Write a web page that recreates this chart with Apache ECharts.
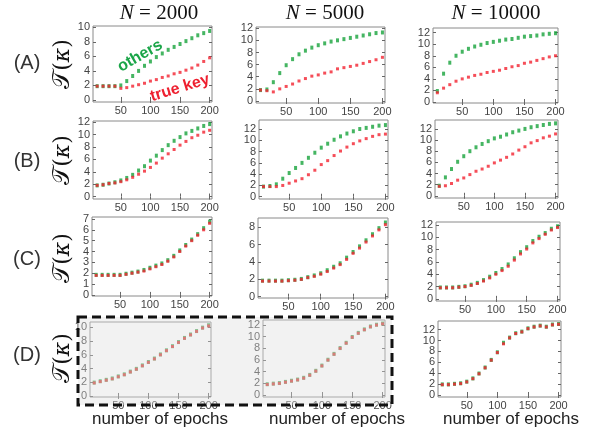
<!DOCTYPE html>
<html><head><meta charset="utf-8">
<script src="https://cdn.jsdelivr.net/npm/echarts@6/dist/echarts.min.js"></script>
<style>html,body{margin:0;padding:0;background:#fff}#c{width:602px;height:432px}</style>
</head><body><div id="c"></div><script>
// ---------- data ----------
const epochs = [10,20,30,40,50,60,70,80,90,100,110,120,130,140,150,160,170,180,190,200];
const colTitles = ['2000','5000','10000'];
const rowLabels = ['(A)','(B)','(C)','(D)'];
const xTicks = [50,100,150,200];
const yTicks10 = [0,2,4,6,8,10];
const yTicks12 = [0,2,4,6,8,10,12];
const yTicks7 = [0,1,2,3,4,5,6,7];
const yTicks8 = [0,2,4,6,8];

const a1Others = [1.9,1.9,1.9,1.9,2.0,2.6,3.3,4.0,4.7,5.3,5.9,6.4,6.9,7.3,7.7,8.1,8.5,8.9,9.2,9.5];
const a1True   = [1.9,1.9,1.9,1.9,1.6,1.7,1.9,2.1,2.3,2.6,2.8,3.1,3.3,3.6,3.8,4.1,4.4,4.8,5.3,5.8];
const a2Others = [1.8,1.9,3.1,4.6,5.9,6.9,7.7,8.3,8.8,9.2,9.5,9.8,10.0,10.2,10.4,10.6,10.8,11.0,11.2,11.3];
const a2True   = [1.8,1.7,1.5,2.0,2.4,2.8,3.3,3.7,4.1,4.3,4.6,4.8,5.3,5.5,5.7,5.9,6.2,6.5,6.8,7.2];
const a3Others = [1.9,4.9,6.8,8.0,8.7,9.2,9.6,9.9,10.2,10.4,10.6,10.8,10.9,11.1,11.3,11.4,11.5,11.7,11.8,11.9];
const a3True   = [1.6,2.4,3.0,3.6,4.0,4.3,4.6,4.8,5.1,5.3,5.5,5.8,6.1,6.3,6.7,6.9,7.2,7.5,7.8,8.0];
const b1Others = [1.8,1.9,2.1,2.3,2.6,3.0,3.5,4.2,4.9,5.8,6.6,7.5,8.3,9.0,9.6,10.2,10.6,11.0,11.4,11.7];
const b1True   = [1.8,1.9,2.1,2.2,2.4,2.7,3.1,3.6,4.1,4.7,5.4,6.2,6.9,7.6,8.3,8.9,9.5,9.9,10.4,10.7];
const b2Others = [1.8,1.9,2.2,3.2,4.2,5.1,6.0,6.9,7.8,8.7,9.4,10.1,10.7,11.2,11.6,12.0,12.2,12.4,12.6,12.7];
const b2True   = [1.8,1.8,1.8,2.0,2.4,2.8,3.2,3.9,4.7,5.7,6.4,7.3,8.1,8.8,9.4,9.9,10.3,10.7,11.0,11.1];
const b3Others = [1.8,3.3,4.8,6.1,7.1,8.0,8.7,9.3,9.8,10.3,10.6,11.0,11.4,11.7,12.0,12.3,12.5,12.7,12.9,13.0];
const b3True   = [1.7,1.8,2.2,2.8,3.2,3.8,4.4,4.8,5.3,5.9,6.4,6.9,7.5,8.2,8.8,9.5,9.9,10.4,10.7,11.1];
const c1Others = [1.85,1.85,1.85,1.85,1.85,1.95,2.05,2.15,2.3,2.5,2.7,2.9,3.2,3.6,4.1,4.6,5.1,5.6,6.15,6.75];
const c1True   = [1.8,1.8,1.8,1.8,1.8,1.9,2.0,2.1,2.2,2.4,2.6,2.8,3.1,3.5,4.0,4.5,5.0,5.5,6.0,6.6];
const c2Others = [1.85,1.85,1.85,1.85,1.9,1.95,2.05,2.25,2.45,2.7,3.05,3.45,3.85,4.5,5.15,5.8,6.5,7.2,7.9,8.55];
const c2True   = [1.8,1.8,1.8,1.8,1.85,1.9,2.0,2.2,2.35,2.6,2.9,3.3,3.7,4.3,5.0,5.6,6.3,7.0,7.7,8.3];
const c3Others = [1.85,1.85,1.85,1.95,2.05,2.3,2.6,3.05,3.6,4.2,4.85,5.6,6.6,7.6,8.4,9.4,10.1,10.7,11.4,11.8];
const c3True   = [1.8,1.8,1.8,1.9,2.0,2.2,2.5,2.9,3.4,4.0,4.6,5.3,6.3,7.3,8.1,9.1,9.8,10.5,11.2,11.6];
const d1Others = [1.95,2.15,2.35,2.55,2.85,3.15,3.55,3.95,4.45,4.95,5.45,6.05,6.65,7.25,7.85,8.45,8.95,9.45,9.95,10.3];
const d1True   = [1.9,2.1,2.3,2.5,2.8,3.1,3.5,3.9,4.4,4.9,5.4,6.0,6.6,7.2,7.8,8.4,8.9,9.4,9.9,10.2];
const d2Others = [1.85,1.95,2.05,2.25,2.45,2.65,2.95,3.45,4.15,5.05,6.05,7.05,8.05,8.95,9.95,10.65,11.25,11.75,12.05,12.25];
const d2True   = [1.8,1.9,2.0,2.2,2.4,2.6,2.9,3.4,4.1,5.0,6.0,7.0,8.0,8.9,9.9,10.6,11.2,11.7,12.0,12.2];
const d3Others = [1.95,1.95,2.05,2.15,2.45,3.05,3.95,5.05,6.45,7.85,9.6,10.55,11.35,11.65,12.25,12.55,12.75,12.55,12.95,13.05];
const d3True   = [1.9,1.9,2.0,2.1,2.4,3.0,3.9,5.0,6.4,7.8,9.4,10.5,11.3,11.6,12.2,12.5,12.7,12.5,12.9,13.0];

// ---------- layout (pixel boxes, axis ranges) ----------
const panels = [
  {o:a1Others, t:a1True, box:[93,26,212,102],  y:[-0.28,10.18], yt:yTicks10},
  {o:a2Others, t:a2True, box:[256,27,385,103], y:[-0.33,12.2],  yt:yTicks12},
  {o:a3Others, t:a3True, box:[433,28,558,103], y:[-0.17,12.8],  yt:yTicks12},
  {o:b1Others, t:b1True, box:[93,121,212,199], y:[-0.4,12.2],   yt:yTicks12},
  {o:b2Others, t:b2True, box:[259,120,388,199],y:[-0.4,13.6],   yt:yTicks12},
  {o:b3Others, t:b3True, box:[435,120,558,198],y:[-0.4,13.6],   yt:yTicks12},
  {o:c1Others, t:c1True, box:[92,217,212,296], y:[-0.1,7.18],   yt:yTicks7},
  {o:c2Others, t:c2True, box:[258,218,388,298],y:[-0.15,9.07],  yt:yTicks8},
  {o:c3Others, t:c3True, box:[436,222,560,301],y:[-0.35,12.5],  yt:yTicks12},
  {o:d1Others, t:d1True, box:[90,322,211,397], y:[-0.15,10.77], yt:yTicks10},
  {o:d2Others, t:d2True, box:[263,320,385,397],y:[-0.34,12.86], yt:yTicks12},
  {o:d3Others, t:d3True, box:[438,321,561,397],y:[-0.37,13.6],  yt:yTicks12}
];
const X_MIN = 3, X_MAX = 204;
const GREEN = '#17a33b', RED = '#f2222f';
const labelFont = {fontSize:11, color:'#444', fontFamily:'Liberation Sans, Arial, sans-serif'};

const grid = [], xAxis = [], yAxis = [], series = [];
panels.forEach((p, i) => {
  const [L,T,R,B] = p.box;
  grid.push({left:L, top:T, width:R-L, height:B-T, show:true, borderColor:'#8a8a8a', borderWidth:1, containLabel:false});
  const tickStyle = {lineStyle:{color:'#666', width:1}};
  xAxis.push({gridIndex:i, type:'value', min:X_MIN, max:X_MAX, position:'bottom',
    axisLine:{show:false}, splitLine:{show:false},
    axisTick:Object.assign({inside:true, length:3, customValues:xTicks}, tickStyle),
    axisLabel:Object.assign({customValues:xTicks, margin:3}, labelFont)});
  xAxis.push({gridIndex:i, type:'value', min:X_MIN, max:X_MAX, position:'top',
    axisLine:{show:false}, splitLine:{show:false},
    axisTick:Object.assign({inside:true, length:3, customValues:xTicks}, tickStyle),
    axisLabel:{show:false}});
  yAxis.push({gridIndex:i, type:'value', min:p.y[0], max:p.y[1], position:'left',
    axisLine:{show:false}, splitLine:{show:false},
    axisTick:Object.assign({inside:true, length:3, customValues:p.yt}, tickStyle),
    axisLabel:Object.assign({customValues:p.yt, margin:3}, labelFont)});
  yAxis.push({gridIndex:i, type:'value', min:p.y[0], max:p.y[1], position:'right',
    axisLine:{show:false}, splitLine:{show:false},
    axisTick:Object.assign({inside:true, length:3, customValues:p.yt}, tickStyle),
    axisLabel:{show:false}});
  series.push({type:'scatter', xAxisIndex:2*i, yAxisIndex:2*i, symbol:'rect', symbolSize:[3,4],
    itemStyle:{color:GREEN}, data:epochs.map((e,k)=>[e,p.o[k]]), z:2, silent:true, animation:false});
  series.push({type:'scatter', xAxisIndex:2*i, yAxisIndex:2*i, symbol:'rect', symbolSize:[3,3],
    itemStyle:{color:RED}, data:epochs.map((e,k)=>[e,p.t[k]]), z:3, silent:true, animation:false});
});

// ---------- text & decorations ----------
const graphic = [];
const titleX = [159, 325, 496];
colTitles.forEach((t, j) => {
  graphic.push({type:'text', x:titleX[j], y:13, style:{
    text:'{i|N} = ' + t, align:'center', verticalAlign:'middle',
    rich:{i:{fontStyle:'italic', fontFamily:'Liberation Serif, serif', fontSize:21, fill:'#111'}},
    fontFamily:'Liberation Serif, serif', fontSize:21, fill:'#111'}});
});
const rowY = [63, 161, 259, 355];
const yLabY = [64, 160, 258, 358];
rowLabels.forEach((t, r) => {
  graphic.push({type:'text', x:27, y:rowY[r], style:{text:t, align:'center', verticalAlign:'middle',
    fontFamily:'Liberation Sans, Arial, sans-serif', fontSize:20, fill:'#333'}});
  graphic.push({type:'text', x:63, y:yLabY[r], rotation:Math.PI/2, style:{text:'{s|𝒯}({k|κ})', align:'center', verticalAlign:'middle',
    rich:{s:{fontFamily:'DejaVu Serif, serif', fontSize:24, fill:'#111'},
          k:{fontFamily:'DejaVu Serif, serif', fontStyle:'italic', fontSize:22, fill:'#111'}},
    fontFamily:'DejaVu Serif, serif', fontSize:22, fill:'#111'}});
});
const epochX = [160, 337, 511];
epochX.forEach(x => graphic.push({type:'text', x:x, y:419, style:{text:'number of epochs', align:'center', verticalAlign:'middle',
  fontFamily:'Liberation Sans, Arial, sans-serif', fontSize:17, fill:'#222'}}));
graphic.push({type:'text', x:140, y:56, rotation:0.52, style:{text:'others', align:'center', verticalAlign:'middle',
  fontFamily:'Liberation Sans, Arial, sans-serif', fontWeight:'bold', fontSize:16, fill:'#1aa548'}});
graphic.push({type:'text', x:180, y:88, rotation:0.3, style:{text:'true key', align:'center', verticalAlign:'middle',
  fontFamily:'Liberation Sans, Arial, sans-serif', fontWeight:'bold', fontSize:16, fill:'#ee1f2f'}});
// faded overlay for panels D1 & D2 and dashed frame
graphic.push({type:'rect', shape:{x:78, y:317, width:314, height:88}, z:100,
  style:{fill:'rgba(221,221,221,0.39)'}});
graphic.push({type:'rect', shape:{x:78, y:317, width:314, height:88}, z:101,
  style:{fill:'none', stroke:'#111', lineWidth:3, lineDash:[9,5]}});

const chart = echarts.init(document.getElementById('c'), null, {renderer:'canvas'});
chart.setOption({animation:false, backgroundColor:'#fff', grid, xAxis, yAxis, series, graphic});
</script></body></html>
